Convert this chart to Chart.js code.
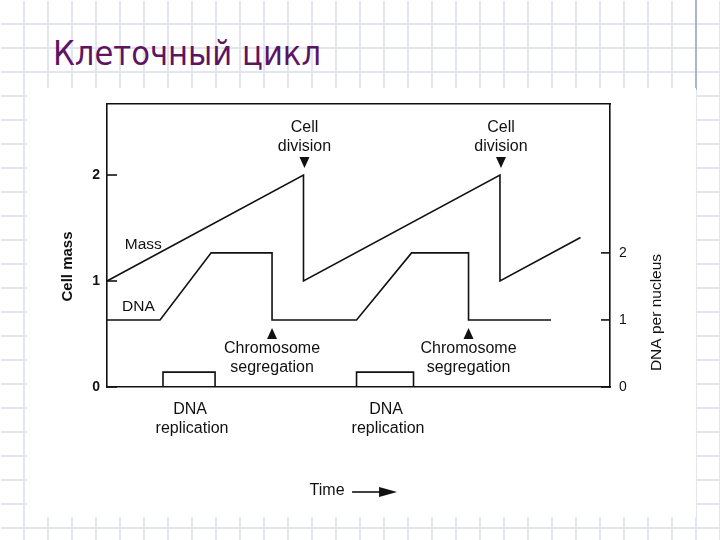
<!DOCTYPE html>
<html><head><meta charset="utf-8">
<script src="https://cdn.jsdelivr.net/npm/chart.js@4.4.1/dist/chart.umd.min.js"></script>
<style>
html,body{margin:0;padding:0;}
body{width:720px;height:540px;position:relative;overflow:hidden;background:#fff;}
#grid{position:absolute;left:1px;top:1px;width:719px;height:539px;
background-image:linear-gradient(to right,#e4e6ef 2px,transparent 2px),linear-gradient(to bottom,#e4e6ef 2px,transparent 2px);
background-size:24px 24px;background-position:22px 22px;}
#paper{position:absolute;left:27px;top:88px;width:669px;height:429px;background:#fff;}
#bar{position:absolute;left:695px;top:0;width:2px;height:90px;background:#aab5d3;}
#title{position:absolute;left:53px;top:36px;font-family:'DejaVu Sans';font-size:34px;line-height:34px;color:#5e1463;white-space:nowrap;transform-origin:0 0;}
canvas{position:absolute;left:0;top:0;}
</style></head>
<body>
<div id="grid"></div>
<div id="bar"></div>
<div id="paper"></div>
<div id="title">Клеточный цикл</div>
<canvas id="c" width="720" height="540"></canvas>
<script>
// ---- data ----
const timeMass = [0, 100, 100, 200, 200, 241];
const massValues = [1, 2, 1, 2, 1, 1.41];
const timeDna = [0, 27, 53, 84, 84, 127, 155, 184, 184, 226];
const dnaValues = [1, 1, 2, 2, 1, 1, 2, 2, 1, 1];
const replicationStart = [28.5, 127];
const replicationEnd = [55, 156];
const replicationLevel = [0.14, 0.14];
const massTicks = [0, 1, 2];
const dnaTicks = [0, 1, 2];
const divisionTimes = [100, 200];
const segregationTimes = [84, 184];
const leftTitle = 'Cell mass';
const rightTitle = 'DNA per nucleus';

const FAM = "'Liberation Sans', Arial, Helvetica, sans-serif";
const INK = '#111111';
Chart.defaults.font.family = FAM;
Chart.defaults.color = INK;

// fit title width
function fitTitle(){
  const t = document.getElementById('title');
  t.style.transform = 'none';
  const w = t.getBoundingClientRect().width;
  t.style.transform = 'scaleX(' + (268 / w) + ')';
}
fitTitle();
if (document.fonts && document.fonts.ready) document.fonts.ready.then(fitTitle);

const toPts = (xs, ys) => xs.map((x, i) => ({x: x, y: ys[i]}));
const boxPts = (i) => [
  {x: replicationStart[i], y: 0}, {x: replicationStart[i], y: replicationLevel[i]},
  {x: replicationEnd[i], y: replicationLevel[i]}, {x: replicationEnd[i], y: 0}
];

const lineStyle = {borderColor: INK, borderWidth: 1.6, pointRadius: 0, tension: 0, fill: false, clip: 4};

const datasets = [
  Object.assign({label: 'Mass', data: toPts(timeMass, massValues), yAxisID: 'yMass'}, lineStyle),
  Object.assign({label: 'DNA', data: toPts(timeDna, dnaValues), yAxisID: 'yDna'}, lineStyle),
  Object.assign({label: 'DNA replication 1', data: boxPts(0), yAxisID: 'yMass'}, lineStyle),
  Object.assign({label: 'DNA replication 2', data: boxPts(1), yAxisID: 'yMass'}, lineStyle)
];

function line(ctx, x1, y1, x2, y2){ ctx.beginPath(); ctx.moveTo(x1, y1); ctx.lineTo(x2, y2); ctx.stroke(); }
function tri(ctx, x, tipY, dir){ // dir=1 pointing down, -1 pointing up
  const h = 11, w = 5;
  ctx.beginPath(); ctx.moveTo(x, tipY); ctx.lineTo(x - w, tipY - dir * h); ctx.lineTo(x + w, tipY - dir * h); ctx.closePath(); ctx.fill();
}

const annot = {
  id: 'annot',
  afterDraw(chart){
    const ctx = chart.ctx, a = chart.chartArea, s = chart.scales;
    const x = s.x, ym = s.yMass, yd = s.yDna;
    ctx.save();
    ctx.strokeStyle = INK; ctx.fillStyle = INK; ctx.lineWidth = 1.6;
    // inward tick marks
    ym.ticks.forEach(tk => { const y = ym.getPixelForValue(tk.value); line(ctx, a.left, y, a.left + 10, y); });
    yd.ticks.forEach(tk => { const y = yd.getPixelForValue(tk.value); line(ctx, a.right - 9, y, a.right, y); });

    ctx.textAlign = 'center'; ctx.textBaseline = 'middle';
    ctx.font = '16px ' + FAM;
    divisionTimes.forEach(t => {
      const px = x.getPixelForValue(t);
      const peak = Math.max.apply(null, massValues.filter((v, i) => timeMass[i] === t));
      const py = ym.getPixelForValue(peak);
      tri(ctx, px + 1, py - 7, 1);
      ctx.fillText('Cell', px + 1, py - 47);
      ctx.fillText('division', px + 1, py - 28);
    });
    segregationTimes.forEach(t => {
      const px = x.getPixelForValue(t);
      const py = yd.getPixelForValue(1);
      tri(ctx, px, py + 8, -1);
      ctx.fillText('Chromosome', px, py + 29);
      ctx.fillText('segregation', px, py + 48);
    });
    replicationStart.forEach((st, i) => {
      const px = x.getPixelForValue((st + replicationEnd[i]) / 2) + 3;
      ctx.fillText('DNA', px - 2, a.bottom + 23);
      ctx.fillText('replication', px, a.bottom + 42);
    });
    ctx.font = '15.5px ' + FAM;
    ctx.fillText('Mass', x.getPixelForValue(18.5), ym.getPixelForValue(1.34));
    ctx.fillText('DNA', x.getPixelForValue(16), yd.getPixelForValue(1.19));

    // Time arrow
    ctx.font = '16px ' + FAM;
    const tx = x.getPixelForValue(112), ty = a.bottom + 104;
    ctx.fillText('Time', tx, ty);
    line(ctx, tx + 25, ty + 1, tx + 55, ty + 1);
    ctx.beginPath(); ctx.moveTo(tx + 70, ty + 1); ctx.lineTo(tx + 52, ty - 4); ctx.lineTo(tx + 52, ty + 6); ctx.closePath(); ctx.fill();

    // axis titles
    ctx.save();
    ctx.translate(a.left - 39, (a.top + a.bottom) / 2 + 21);
    ctx.rotate(-Math.PI / 2);
    ctx.font = 'bold 15px ' + FAM;
    ctx.fillText(leftTitle, 0, 0);
    ctx.restore();
    ctx.save();
    ctx.translate(a.right + 47, (a.top + a.bottom) / 2 + 67);
    ctx.rotate(-Math.PI / 2);
    ctx.font = '15.5px ' + FAM;
    ctx.fillText(rightTitle, 0, 0);
    ctx.restore();
    ctx.restore();
  }
};

const hiddenX = (pos) => ({
  type: 'linear', position: pos, min: 0, max: 256,
  ticks: {display: false}, grid: {display: false, drawTicks: false},
  border: {display: true, color: INK, width: 1.6},
  afterFit(sc){ sc.height = 0; }
});

new Chart(document.getElementById('c'), {
  type: 'line',
  data: {datasets: datasets},
  plugins: [annot],
  options: {
    responsive: false, animation: false, devicePixelRatio: 1,
    parsing: true,
    layout: {padding: {left: 60, right: 80, top: 104, bottom: 153}},
    plugins: {legend: {display: false}, tooltip: {enabled: false}, title: {display: false}},
    scales: {
      x: hiddenX('bottom'),
      xTop: hiddenX('top'),
      yMass: {
        type: 'linear', position: 'left', min: 0, max: 2.67,
        afterBuildTicks(sc){ sc.ticks = massTicks.map(v => ({value: v})); },
        ticks: {font: {size: 14, weight: 'bold'}, color: INK, padding: 7},
        grid: {display: false, drawTicks: false},
        border: {display: true, color: INK, width: 1.6},
        afterFit(sc){ sc.width = 47; }
      },
      yDna: {
        type: 'linear', position: 'right', min: 0, max: 4.22,
        afterBuildTicks(sc){ sc.ticks = dnaTicks.map(v => ({value: v})); },
        ticks: {font: {size: 14}, color: INK, padding: 9},
        grid: {display: false, drawTicks: false},
        border: {display: true, color: INK, width: 1.6},
        afterFit(sc){ sc.width = 30; }
      }
    }
  }
});
</script>
</body></html>
